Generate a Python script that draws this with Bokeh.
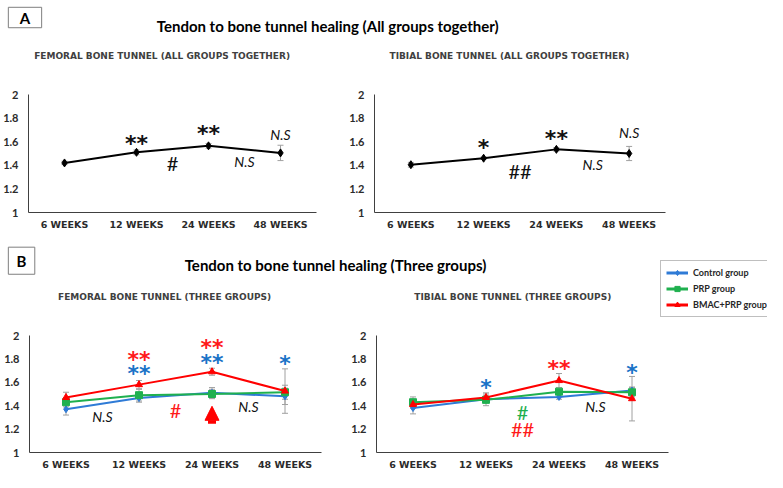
from bokeh.plotting import figure
from bokeh.models import (Range1d, FixedTicker, ColumnDataSource, Whisker, TeeHead,
                          Arrow, NormalHead, Legend, LegendItem)
from bokeh.layouts import column, row
from bokeh.core.properties import value
from bokeh.embed import file_html
from bokeh.resources import INLINE

# ---------------- data ----------------
weeks = ["6 WEEKS", "12 WEEKS", "24 WEEKS", "48 WEEKS"]
y_ticks = [1, 1.2, 1.4, 1.6, 1.8, 2]
y_tick_labels = ["1", "1.2", "1.4", "1.6", "1.8", "2"]

fem_all = [1.42, 1.51, 1.565, 1.505]
fem_all_err = [0.015, 0.02, 0.02, 0.065]
tib_all = [1.405, 1.46, 1.535, 1.50]
tib_all_err = [0.02, 0.01, 0.015, 0.06]

groups = ["Control group", "PRP group", "BMAC+PRP group"]
fem_control = [1.37, 1.465, 1.51, 1.48]
fem_control_err = [0.05, 0.035, 0.045, 0.07]
fem_prp = [1.43, 1.49, 1.50, 1.515]
fem_prp_err = [0.04, 0.05, 0.04, 0.06]
fem_bmac = [1.47, 1.58, 1.69, 1.525]
fem_bmac_err = [0.045, 0.035, 0.03, 0.19]

tib_control = [1.38, 1.455, 1.475, 1.53]
tib_control_err = [0.05, 0.03, 0.02, 0.03]
tib_prp = [1.43, 1.45, 1.52, 1.515]
tib_prp_err = [0.045, 0.05, 0.02, 0.04]
tib_bmac = [1.41, 1.47, 1.615, 1.46]
tib_bmac_err = [0.03, 0.04, 0.06, 0.19]

# significance annotations: (x position on week index axis, y value, text, colour)
BLUE_T, RED_T, GREEN_T, BLACK_T = "#1a73c7", "#ff1a1a", "#1fb04f", "#111111"
femA_marks = [(1, 1.63, "**", BLACK_T), (2, 1.71, "**", BLACK_T)]
femA_hash = [(1.5, 1.42, "#", BLACK_T)]
femA_ns = [(3, 1.66), (2.5, 1.43)]
tibA_marks = [(1, 1.59, "*", BLACK_T), (2, 1.67, "**", BLACK_T)]
tibA_hash = [(1.5, 1.35, "##", BLACK_T)]
tibA_ns = [(3, 1.68), (2.5, 1.41)]
femB_marks = [(1, 1.84, "**", RED_T), (1, 1.716, "**", BLUE_T),
              (2, 1.94, "**", RED_T), (2, 1.81, "**", BLUE_T), (3, 1.80, "*", BLUE_T)]
femB_hash = [(1.5, 1.36, "#", RED_T)]
femB_ns = [(0.5, 1.305), (2.5, 1.39)]
femB_arrow = (2, 1.245, 1.395)
tibB_marks = [(1, 1.60, "*", BLUE_T), (2, 1.757, "**", RED_T), (3, 1.73, "*", BLUE_T)]
tibB_hash = [(1.5, 1.35, "#", GREEN_T), (1.5, 1.20, "##", RED_T)]
tibB_ns = [(2.5, 1.39)]

# ---------------- layout helpers ----------------
W, H = 767, 472
RW, RH = 783, 488
sx, sy = W / RW, H / RH
def X(r): return round(r * sx)
def Y(r): return round(r * sy)

SPLIT = 345
C_BLUE, C_GREEN, C_RED = "#2f7bd6", "#1fb04f", "#ff0000"
ERR = "#a0a0a0"
NAN = float("nan")

def header(y0, y1):
    p = figure(width=W, height=Y(y1) - Y(y0), x_range=Range1d(0, RW), y_range=Range1d(y1, y0),
               x_axis_type=None, y_axis_type=None, toolbar_location=None,
               min_border=0, output_backend="svg")
    p.outline_line_color = None
    return p

def panel(fx0, fx1, fy0, fy1, rx0, rx1, ry0, ry1):
    p = figure(width=X(fx1) - X(fx0), height=Y(fy1) - Y(fy0),
               x_range=Range1d(-0.5, len(weeks) - 0.5), y_range=Range1d(1, 2),
               min_border_left=X(rx0) - X(fx0), min_border_right=X(fx1) - X(rx1),
               min_border_top=Y(ry0) - Y(fy0), min_border_bottom=Y(fy1) - Y(ry1),
               toolbar_location=None, output_backend="svg")
    p.xgrid.visible = False
    p.ygrid.visible = False
    p.outline_line_color = None
    p.xaxis.ticker = FixedTicker(ticks=list(range(len(weeks))))
    p.xaxis.major_label_overrides = {i: w for i, w in enumerate(weeks)}
    p.yaxis.ticker = FixedTicker(ticks=y_ticks)
    p.yaxis.major_label_overrides = dict(zip(y_ticks, y_tick_labels))
    for ax in p.axis:
        ax.major_tick_out = 0
        ax.major_tick_in = 0
        ax.minor_tick_out = 0
        ax.minor_tick_in = 0
        ax.major_tick_line_color = None
        ax.minor_tick_line_color = None
        ax.axis_line_color = "#404040"
        ax.axis_line_width = 1
        ax.major_label_text_font_style = "bold"
        ax.major_label_text_color = "#2b2b2b"
    p.xaxis.major_label_text_font = "DejaVu Sans"
    p.xaxis.major_label_text_font_size = "9.5px"
    p.xaxis.major_label_standoff = 6
    p.yaxis.major_label_text_font = "Lato"
    p.yaxis.major_label_text_font_size = "11px"
    p.yaxis.major_label_standoff = 10
    return p

def series(p, vals, errs, color, marker, size):
    idx = list(range(len(weeks)))
    src = ColumnDataSource(dict(x=idx, y=vals,
                                up=[v + e for v, e in zip(vals, errs)],
                                lo=[v - e for v, e in zip(vals, errs)]))
    p.add_layout(Whisker(source=src, base="x", upper="up", lower="lo", line_color=ERR, line_width=1,
                         upper_head=TeeHead(size=6, line_color=ERR, line_width=1),
                         lower_head=TeeHead(size=6, line_color=ERR, line_width=1)))
    p.line("x", "y", source=src, line_color=color, line_width=2)
    p.scatter("x", "y", source=src, marker=marker, size=size, fill_color=color, line_color=color)

def annotate(p, marks, hashes, ns):
    if marks:
        p.text(x=[m[0] for m in marks], y=[m[1] for m in marks], text=[m[2] for m in marks],
               text_color=[m[3] for m in marks], text_font=value("DejaVu Sans"),
               text_font_style="bold", text_font_size="22px", text_align="center",
               text_baseline="middle", y_offset=5)
    if hashes:
        p.text(x=[m[0] for m in hashes], y=[m[1] for m in hashes], text=[m[2] for m in hashes],
               text_color=[m[3] for m in hashes], text_font=value("Lato"),
               text_font_size="20px", text_align="center", text_baseline="middle")
    if ns:
        p.text(x=[m[0] for m in ns], y=[m[1] for m in ns], text=["N.S"] * len(ns),
               text_color="#111111", text_font=value("Lato"), text_font_style="italic",
               text_font_size="14px", text_align="center", text_baseline="middle")

def box_letter(p, x0, x1, y0, y1, letter):
    p.quad(left=[x0], right=[x1], top=[y0], bottom=[y1], fill_color="white",
           line_color="#7f7f7f", line_width=1)
    p.text(x=[(x0 + x1) / 2], y=[(y0 + y1) / 2], text=[letter], text_font=value("Lato"),
           text_font_style="bold", text_font_size="15px", text_align="center",
           text_baseline="middle", text_color="black")

def texts(p, xs, ys, labels, font, size, style, color):
    p.text(x=xs, y=ys, text=labels, text_font=value(font), text_font_size=size,
           text_font_style=style, text_color=color, text_align="center", text_baseline="middle")

# ---------------- header A ----------------
hA = header(0, 72)
box_letter(hA, 8, 42, 7, 28, "A")
texts(hA, [334], [26], ["Tendon to bone tunnel healing (All groups together)"], "Lato", "15px", "bold", "black")
texts(hA, [165, 519.5], [57, 57], ["FEMORAL BONE TUNNEL (ALL GROUPS TOGETHER)",
                                   "TIBIAL BONE TUNNEL (ALL GROUPS TOGETHER)"],
      "DejaVu Sans", "9px", "bold", "#404040")

# ---------------- row A ----------------
femA = panel(0, SPLIT, 72, 245, 27, 323, 97, 219)
series(femA, fem_all, fem_all_err, "black", "diamond", 8)
annotate(femA, femA_marks, femA_hash, femA_ns)

tibA = panel(SPLIT, RW, 72, 245, 382, 679, 97, 219)
series(tibA, tib_all, tib_all_err, "black", "diamond", 8)
annotate(tibA, tibA_marks, tibA_hash, tibA_ns)

# ---------------- header B ----------------
hB = header(245, 337)
box_letter(hB, 8, 35, 255, 283, "B")
texts(hB, [342], [273], ["Tendon to bone tunnel healing (Three groups)"], "Lato", "15px", "bold", "black")
texts(hB, [167.5, 523], [307, 307], ["FEMORAL BONE TUNNEL (THREE GROUPS)",
                                     "TIBIAL BONE TUNNEL (THREE GROUPS)"],
      "DejaVu Sans", "9px", "bold", "#404040")
items = []
for name, col, mk in zip(groups, [C_BLUE, C_GREEN, C_RED], ["diamond", "square", "triangle"]):
    rl = hB.line(x=[NAN], y=[NAN], line_color=col, line_width=3)
    rm = hB.scatter(x=[NAN], y=[NAN], marker=mk, size=10, fill_color=col, line_color=col)
    items.append(LegendItem(label=name, renderers=[rl, rm]))
leg = Legend(items=items, location=(X(674), Y(337) - Y(328)), orientation="vertical",
             label_text_font="Lato", label_text_font_style="bold", label_text_font_size="9px",
             label_text_color="#262626", border_line_color="#7f7f7f", border_line_width=1,
             background_fill_color="white", background_fill_alpha=1.0, padding=5, spacing=3,
             glyph_width=22, glyph_height=13, label_height=13, label_standoff=5, margin=0)
hB.add_layout(leg)

# ---------------- row B ----------------
femB = panel(0, SPLIT, 337, 488, 30, 328, 346.7, 469)
series(femB, fem_control, fem_control_err, C_BLUE, "diamond", 7)
series(femB, fem_prp, fem_prp_err, C_GREEN, "square", 7)
series(femB, fem_bmac, fem_bmac_err, C_RED, "triangle", 7)
annotate(femB, femB_marks, femB_hash, femB_ns)
femB.add_layout(Arrow(x_start=femB_arrow[0], y_start=femB_arrow[1], x_end=femB_arrow[0],
                      y_end=femB_arrow[2], line_color=C_RED, line_width=8,
                      end=NormalHead(size=14, fill_color=C_RED, line_color=C_RED)))

tibB = panel(SPLIT, RW, 337, 488, 384, 682, 346.7, 469)
series(tibB, tib_control, tib_control_err, C_BLUE, "diamond", 7)
series(tibB, tib_prp, tib_prp_err, C_GREEN, "square", 7)
series(tibB, tib_bmac, tib_bmac_err, C_RED, "triangle", 7)
annotate(tibB, tibB_marks, tibB_hash, tibB_ns)

layout = column(hA, row(femA, tibA), hB, row(femB, tibB))
open("out.html", "w").write(file_html(layout, INLINE))
